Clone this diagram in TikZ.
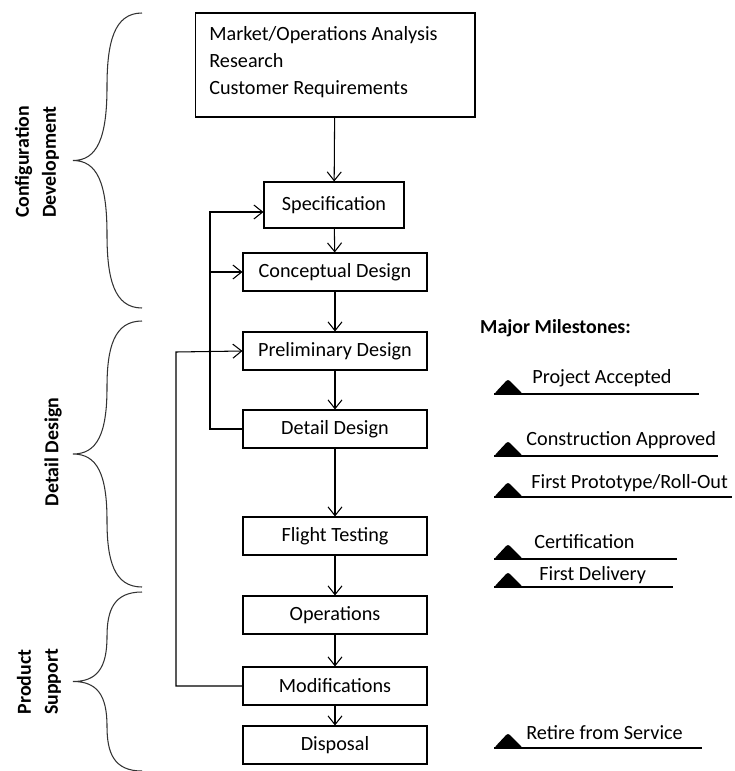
\documentclass[tikz,border=0pt]{standalone}
\usepackage{fontspec}
\setmainfont{Carlito}
\usepackage{tikz}
\usetikzlibrary{arrows.meta, positioning, calc}

\begin{document}
\begin{tikzpicture}[
  x=0.02cm, y=-0.02cm,
  font=\fontsize{11.5}{15.3}\selectfont,
  stage/.style={draw, line width=0.6pt, minimum width=3.68cm, minimum height=0.76cm, inner sep=1mm},
  phase/.style={rotate=90, align=center, font=\fontsize{11.3}{15.3}\selectfont\bfseries},
  arrow/.style={-{Straight Barb[length=5pt, width=8pt]}, line width=0.6pt},
  brace/.style={line width=0.6pt, black!80}
]
\useasboundingbox (0,0) rectangle (734,771);

% flow of stages
\node[draw, line width=0.6pt, minimum width=5.6cm, minimum height=2.08cm] (mkt) at (335,65) {};
\node[anchor=north west, align=left, inner sep=0pt] (mkttxt) at (209,26)
  {Market/Operations Analysis\\Research\\Customer Requirements};
\node[stage, minimum width=2.8cm, minimum height=0.92cm] (spec) at (334,205) {Specification};
\node[stage] (concept) at (335,272) {Conceptual Design};
\node[stage] (prelim) at (335,351) {Preliminary Design};
\node[stage] (detail) at (335,429) {Detail Design};
\node[stage] (flight) at (335,536) {Flight Testing};
\node[stage] (ops) at (335,615) {Operations};
\node[stage] (modif) at (335,686) {Modifications};
\node[stage] (disp) at (335,745) {Disposal};

\draw[arrow] (mkt) -- (spec);
\draw[arrow] (spec) -- (concept);
\draw[arrow] (concept) -- (prelim);
\draw[arrow] (prelim) -- (detail);
\draw[arrow] (detail) -- (flight);
\draw[arrow] (flight) -- (ops);
\draw[arrow] (ops) -- (modif);
\draw[arrow] (modif) -- (disp);

% feedback loops
\coordinate (loopA) at (210,212);
\coordinate (loopB) at (176,352);
\draw[arrow] (detail.west) -| (loopA) -- (spec.west |- loopA);
\draw[arrow] (loopA |- concept.west) -- (concept.west);
\draw[arrow] (modif.west) -| (loopB) -- (prelim.west);

% phase braces
\foreach \t/\b in {13/308, 321/587, 592/771}{
  \pgfmathsetmacro{\m}{(\t+\b)/2}
  \pgfmathsetmacro{\h}{(\b-\t)/2}
  \draw[brace] (142,\t) .. controls (114,\t) and (107,\t+0.2*\h) .. (107,\t+0.5*\h)
    .. controls (107,\t+0.85*\h) and (97,\m) .. (73,\m)
    .. controls (97,\m) and (107,\m+0.15*\h) .. (107,\m+0.5*\h)
    .. controls (107,\b-0.2*\h) and (114,\b) .. (142,\b);
}
\node[phase] (cfg) at (37,162) {Configuration\\Development};
\node[phase] (ddes) at (53,452) {Detail Design};
\node[phase] (psup) at (39,682) {Product\\Support};

% milestones
\node[anchor=west, font=\fontsize{11.3}{15.3}\selectfont\bfseries] (major) at (474,328) {Major Milestones:};
\foreach \by/\lx/\tx/\ty/\txt [count=\i] in {
  394/699/532/378/{Project Accepted},
  456/718/526/440/{Construction Approved},
  497/732/531/483/{First Prototype/Roll-Out},
  559/677/534/542/{Certification},
  587/673/539/575/{First Delivery},
  748/702/526/733/{Retire from Service}}{
  \fill[rounded corners=1.5pt] (494,\by) -- (508,\by-15) -- (523,\by) -- cycle;
  \draw[line width=0.6pt] (494,\by) -- (\lx,\by);
  \node[anchor=west, inner sep=0pt] (ms\i) at (\tx,\ty) {\txt};
}
\end{tikzpicture}
\end{document}
